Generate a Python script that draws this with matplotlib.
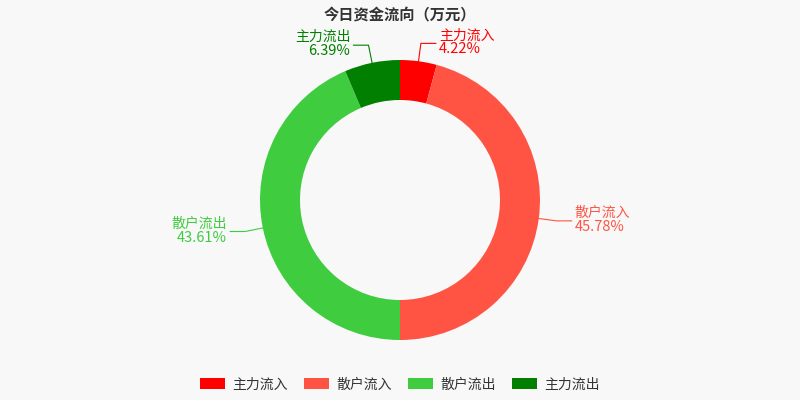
import matplotlib.pyplot as plt
import numpy as np

plt.rcParams['font.family'] = ['Noto Sans CJK SC', 'DejaVu Sans']

names = ['主力流入', '散户流入', '散户流出', '主力流出']
values = [4.22, 45.78, 43.61, 6.39]
colors = ['#ff0000', '#ff5443', '#3fcc3f', '#007f00']

fig = plt.figure(figsize=(8, 4), dpi=100, facecolor='#f8f8f8')
ax = fig.add_axes([0, 0, 1, 1])
ax.set_xlim(-400, 400)
ax.set_ylim(-200, 200)
ax.set_aspect('equal')
ax.axis('off')

wedges, _ = ax.pie(values, colors=colors, radius=140, startangle=90, counterclock=False,
                   wedgeprops=dict(width=40, linewidth=0), center=(0, 0), frame=True)
ax.set_xlim(-400, 400)
ax.set_ylim(-200, 200)
ax.axis('off')

for w, n, v, c in zip(wedges, names, values, colors):
    ang = np.deg2rad((w.theta1 + w.theta2) / 2)
    x0, y0 = 140 * np.cos(ang), 140 * np.sin(ang)
    x1, y1 = 158 * np.cos(ang), 158 * np.sin(ang)
    side = 1 if x0 >= 0 else -1
    x2 = x1 + side * 15
    ax.plot([x0, x1, x2], [y0, y1, y1], color=c, lw=0.8)
    ha = 'left' if side > 0 else 'right'
    ax.text(x2 + side * 3, y1 + 1, n, color=c, fontsize=10, ha=ha, va='bottom')
    ax.text(x2 + side * 3, y1 + 1, f'{v:.2f}%', color=c, fontsize=10.5, ha=ha, va='top')

fig.text(0.5, 0.965, '今日资金流向（万元）', ha='center', va='center', fontsize=11,
         fontweight='bold', color='#333333')
fig.legend(wedges, names, loc='lower center', ncol=4, frameon=False, fontsize=10,
           bbox_to_anchor=(0.5, -0.01), handlelength=1.8, handleheight=0.9,
           columnspacing=1.2, handletextpad=0.5, labelcolor='#333333')

fig.savefig('out.png', dpi=100, facecolor=fig.get_facecolor())
